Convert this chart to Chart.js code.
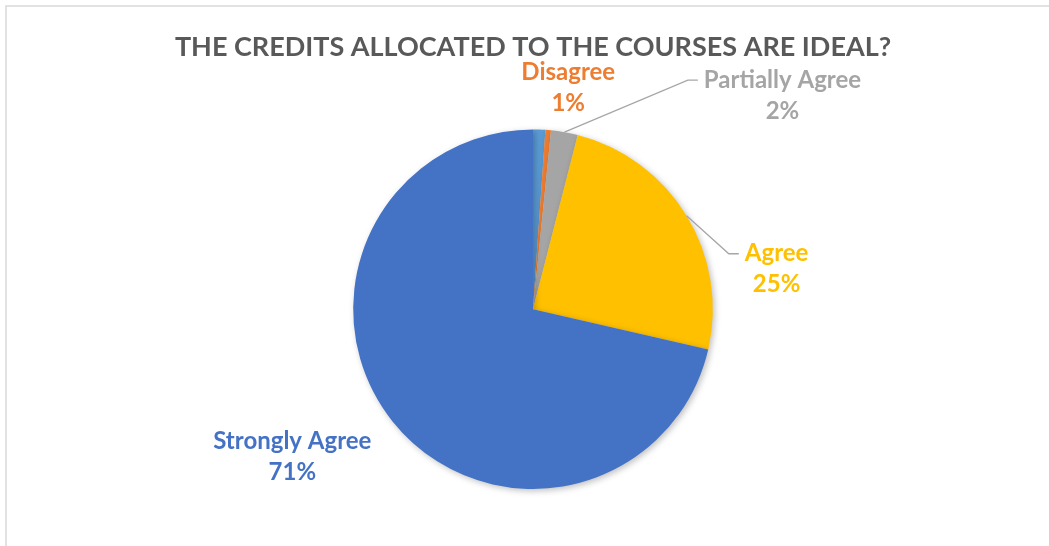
<!DOCTYPE html>
<html>
<head>
<meta charset="utf-8">
<script src="https://cdn.jsdelivr.net/npm/chart.js@4.4.1/dist/chart.umd.min.js"></script>
<style>
  html, body { margin: 0; padding: 0; background: #fff; }
  #wrap { width: 1049px; height: 546px; }
</style>
</head>
<body>
<div id="wrap"><canvas id="chart-pie"></canvas></div>
<script>
// 1. DATOS
const categories = ['Strongly Disagree', 'Disagree', 'Partially Agree', 'Agree', 'Strongly Agree'];
const values = [1.1, 0.5, 2.4, 24.6, 71.4];
const colors = ['#5B9BD5', '#ED7D31', '#A5A5A5', '#FFC000', '#4472C4'];
const showLabel = [false, true, true, true, true];

const titleText = 'THE CREDITS ALLOCATED TO THE COURSES ARE IDEAL?';
const labelFont = 'bold 24px Lato, "Open Sans", sans-serif';

// posiciones de etiquetas relativas al borde del sector (dx, dy) y si llevan línea guía
const labelOffsets = [null, [20, -58], [218, -52], [90, 38], [-100, 20]];
const leader = [false, false, true, true, false];

// marco gris claro alrededor del gráfico
const framePlugin = {
  id: 'frame',
  beforeDraw(chart) {
    const ctx = chart.ctx;
    ctx.save();
    ctx.strokeStyle = '#D9D9D9';
    ctx.lineWidth = 1.5;
    ctx.strokeRect(6, 6, chart.width + 20, chart.height + 20);
    ctx.restore();
  }
};

// sombra suave del pastel
const shadowPlugin = {
  id: 'pieShadow',
  beforeDatasetsDraw(chart) {
    const ctx = chart.ctx;
    ctx.save();
    ctx.shadowColor = 'rgba(0,0,0,0.25)';
    ctx.shadowBlur = 6;
    ctx.shadowOffsetX = 2;
    ctx.shadowOffsetY = 2;
  },
  afterDatasetsDraw(chart) {
    chart.ctx.restore();
  }
};

// etiquetas de datos estilo Excel
const labelsPlugin = {
  id: 'pieLabels',
  afterDatasetsDraw(chart) {
    const ctx = chart.ctx;
    const meta = chart.getDatasetMeta(0);
    const total = values.reduce((a, b) => a + b, 0);
    ctx.save();
    ctx.font = labelFont;
    ctx.textAlign = 'center';
    ctx.textBaseline = 'middle';
    meta.data.forEach((arc, i) => {
      if (!showLabel[i]) return;
      const mid = (arc.startAngle + arc.endAngle) / 2;
      const ex = arc.x + Math.cos(mid) * arc.outerRadius;
      const ey = arc.y + Math.sin(mid) * arc.outerRadius;
      const lx = ex + labelOffsets[i][0];
      const ly = ey + labelOffsets[i][1];
      if (leader[i]) {
        const w = ctx.measureText(categories[i]).width;
        const side = lx > ex ? -1 : 1;
        const hx = lx + side * (w / 2 + 6);
        ctx.strokeStyle = '#A6A6A6';
        ctx.lineWidth = 1.3;
        ctx.beginPath();
        ctx.moveTo(ex, ey);
        ctx.lineTo(hx + side * 10, ly);
        ctx.lineTo(hx, ly);
        ctx.stroke();
      }
      ctx.fillStyle = colors[i];
      const pct = Math.round(values[i] / total * 100) + '%';
      ctx.fillText(categories[i], lx, ly);
      ctx.fillText(pct, lx, ly + 31);
    });
    ctx.restore();
  }
};

new Chart(document.querySelector('#chart-pie'), {
  type: 'pie',
  data: {
    labels: categories,
    datasets: [{
      data: values,
      backgroundColor: colors,
      borderWidth: 0
    }]
  },
  options: {
    responsive: true,
    maintainAspectRatio: false,
    animation: false,
    layout: { padding: { left: 173, right: 156, top: 0, bottom: 57 } },
    plugins: {
      legend: { display: false },
      tooltip: { enabled: false },
      title: {
        display: true,
        text: titleText,
        color: '#595959',
        font: { family: 'Lato, "Open Sans", sans-serif', size: 27, weight: 'bold', lineHeight: 1.2 },
        padding: { top: 31, bottom: 66 }
      }
    }
  },
  plugins: [framePlugin, shadowPlugin, labelsPlugin]
});
</script>
</body>
</html>
